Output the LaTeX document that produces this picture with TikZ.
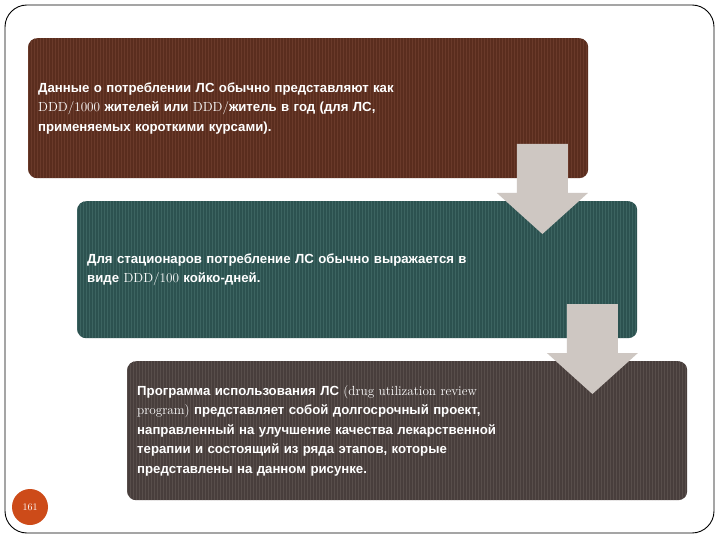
\documentclass[tikz,border=0pt]{standalone}
\usepackage{fontspec}
\usepackage{tikz}
\usetikzlibrary{calc, positioning}

\newfontfamily\boxfont{Liberation Sans}
\newcommand{\serifpart}[1]{{\rmfamily\mdseries #1}}

\definecolor{usagebrown}{RGB}{90,45,30}
\definecolor{usagestripe}{RGB}{106,58,42}
\definecolor{hospteal}{RGB}{44,82,80}
\definecolor{hospstripe}{RGB}{60,100,97}
\definecolor{progbrown}{RGB}{72,62,60}
\definecolor{progstripe}{RGB}{88,78,75}
\definecolor{arrowgray}{RGB}{206,199,194}
\definecolor{pagered}{RGB}{205,75,25}

\tikzset{
  stepbox/.style={anchor=north west, fill=#1, rounded corners=9pt,
    minimum width=560pt, minimum height=138pt, inner xsep=10pt,
    text width=540pt, align=left, text=white,
    font=\boxfont\bfseries\fontsize{13.2}{19.5}\selectfont},
  stripes/.style={path picture={
    \foreach \i in {0,3,...,570}
      \draw[#1, line width=0.7pt]
        ([xshift=\i pt]path picture bounding box.south west) --
        ([xshift=\i pt]path picture bounding box.north west);}},
  downarrow/.style={fill=arrowgray, draw=none}
}

\begin{document}
\begin{tikzpicture}[x=1pt, y=-1pt]
  \useasboundingbox (0,0) rectangle (720,540);
  \fill[white] (0,0) rectangle (720,540);
  % slide frame
  \draw[line width=0.9pt, rounded corners=22pt] (5,5) rectangle (714,533);

  % steps
  \node[stepbox=usagebrown, stripes=usagestripe, minimum height=140pt] (usage) at (28,38)
    {Данные о потреблении ЛС обычно представляют как\\
     \serifpart{DDD/1000} жителей или \serifpart{DDD/}житель в год (для ЛС,\\
     применяемых короткими курсами).};
  \node[stepbox=hospteal, stripes=hospstripe, minimum height=137pt] (hospital) at (77,201)
    {Для стационаров потребление ЛС обычно выражается в\\
     виде \serifpart{DDD/100} койко-дней.};
  \node[stepbox=progbrown, stripes=progstripe, minimum height=139pt] (program) at (127,361)
    {Программа использования ЛС \serifpart{(drug utilization review}\\
     \serifpart{program)} представляет собой долгосрочный проект,\\
     направленный на улучшение качества лекарственной\\
     терапии и состоящий из ряда этапов, которые\\
     представлены на данном рисунке.};

  % arrows between steps
  \coordinate (tipA) at ([xshift=-95pt, yshift=-33pt]hospital.north east);
  \coordinate (tipB) at ([xshift=-95pt, yshift=-33pt]program.north east);
  \foreach \t in {tipA, tipB}
    \fill[downarrow] ($(\t)+(-25.5,-90)$) -- ($(\t)+(25.5,-90)$)
      -- ($(\t)+(25.5,-41)$) -- ($(\t)+(45.5,-41)$) -- (\t)
      -- ($(\t)+(-45.5,-41)$) -- ($(\t)+(-25.5,-41)$) -- cycle;

  % page number
  \node[circle, fill=pagered, minimum size=36pt, inner sep=0pt, text=white,
        font=\rmfamily\fontsize{10}{12}\selectfont] (page) at (30,507) {161};
\end{tikzpicture}
\end{document}
